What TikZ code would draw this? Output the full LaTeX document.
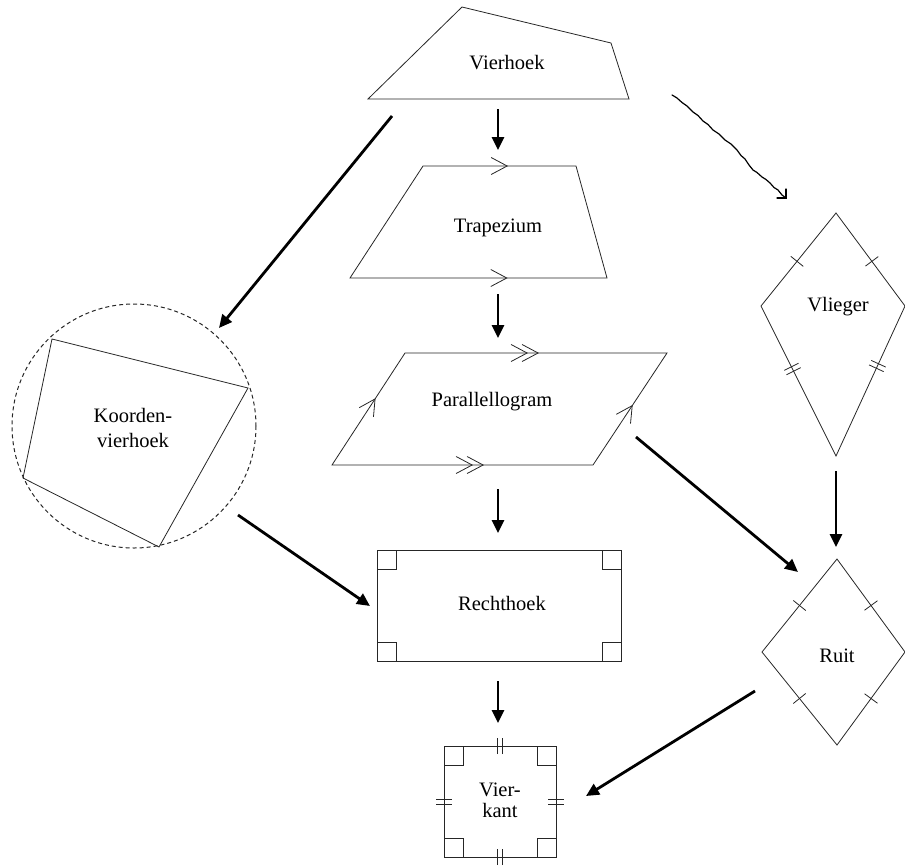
\documentclass[tikz,border=0pt]{standalone}
\usepackage{fontspec}
\setmainfont{Liberation Serif}
\usetikzlibrary{arrows.meta,decorations.markings}
\begin{document}
\begin{tikzpicture}[x=1pt,y=-1pt,
  outline/.style={draw=black!85,line width=0.8pt,line join=miter},
  txt/.style={font=\fontsize{20.5}{24}\selectfont,align=center,inner sep=0pt},
  flowarrow/.style={line width=2.8pt,-{Triangle[length=13pt,width=12pt]}},
  chev/.style={postaction={decorate,decoration={markings,mark=at position #1 with
      {\draw[black!85,line width=0.8pt] (-16pt,8.5pt) -- (0pt,0pt) -- (-16pt,-8.5pt);}}}},
  dchev/.style={postaction={decorate,decoration={markings,mark=at position #1 with
      {\draw[black!85,line width=0.8pt] (-16pt,8.5pt) -- (0pt,0pt) -- (-16pt,-8.5pt)
        (-27pt,8.5pt) -- (-11pt,0pt) -- (-27pt,-8.5pt);}}}},
  onetick/.style={postaction={decorate,decoration={markings,mark=at position #1 with
      {\draw[black!85,line width=0.8pt] (0pt,-8pt) -- (0pt,8pt);}}}},
  twotick/.style={postaction={decorate,decoration={markings,mark=at position #1 with
      {\draw[black!85,line width=0.8pt] (-2.5pt,-8pt) -- (-2.5pt,8pt) (2.5pt,-8pt) -- (2.5pt,8pt);}}}},
]
\useasboundingbox (0,0) rectangle (905,865);

% Vierhoek
\draw[outline] (368,99) -- (462,7) -- (611,43) -- (629,99) -- cycle;
\node[txt] (vierhoek) at (507,63) {Vierhoek};

% Trapezium
\draw[outline] (423,166) -- (576,166) -- (607,278) -- (350,278) -- cycle;
\path[chev=0.55] (423,166) -- (576,166);
\path[chev=0.61] (350,278) -- (607,278);
\node[txt] (trapezium) at (498,228) {Trapezium};

% Parallellogram
\draw[outline] (405,353) -- (667,353) -- (593,465) -- (332,465) -- cycle;
\path[dchev=0.508] (405,353) -- (667,353);
\path[dchev=0.579] (332,465) -- (593,465);
\path[chev=0.59] (332,465) -- (405,353);
\path[chev=0.53] (593,465) -- (667,353);
\node[txt] (parallel) at (492,402) {Parallellogram};

% Koordenvierhoek with its circumscribed circle
\draw[black!85,line width=1pt,dash pattern=on 4pt off 3pt] (134,426) circle[radius=122];
\draw[outline] (52,339) -- (248,388) -- (159,547) -- (23,478) -- cycle;
\node[txt,font=\fontsize{20.5}{25}\selectfont] (koorden) at (133,428) {Koorden-\\vierhoek};

% Rechthoek with right-angle marks
\draw[outline] (377,550) rectangle (621,661);
\draw[outline] (377,550) rectangle (396,569) (602,550) rectangle (621,569)
  (377,642) rectangle (396,661) (602,642) rectangle (621,661);
\node[txt] (rechthoek) at (502,603) {Rechthoek};

% Vierkant
\draw[outline] (444,746) rectangle (556,857);
\draw[outline] (444,746) rectangle (463,765) (537,746) rectangle (556,765)
  (444,838) rectangle (463,857) (537,838) rectangle (556,857);
\path[twotick=0.5] (444,746) -- (556,746);
\path[twotick=0.5] (444,857) -- (556,857);
\path[twotick=0.5] (444,746) -- (444,857);
\path[twotick=0.5] (556,746) -- (556,857);
\node[txt,font=\fontsize{20.5}{21}\selectfont] (vierkant) at (500,800) {Vier-\\kant};

% Vlieger
\draw[outline] (836,213) -- (905,306) -- (836,456) -- (761,306) -- cycle;
\path[onetick=0.52] (836,213) -- (761,306);
\path[onetick=0.52] (836,213) -- (905,306);
\path[twotick=0.42] (761,306) -- (836,456);
\path[twotick=0.40] (905,306) -- (836,456);
\node[txt] (vlieger) at (838,307) {Vlieger};

% Ruit
\draw[outline] (837,559) -- (905,652) -- (837,745) -- (762,652) -- cycle;
\path[onetick=0.5] (837,559) -- (762,652);
\path[onetick=0.5] (837,559) -- (905,652);
\path[onetick=0.5] (762,652) -- (837,745);
\path[onetick=0.5] (905,652) -- (837,745);
\node[txt] (ruit) at (837,656) {Ruit};

% connector end points
\coordinate (a1) at (498,109);  \coordinate (b1) at (498,150);
\coordinate (a2) at (498,294);  \coordinate (b2) at (498,338);
\coordinate (a3) at (498,489);  \coordinate (b3) at (498,533);
\coordinate (a4) at (498,681);  \coordinate (b4) at (498,723);
\coordinate (a5) at (392,116);  \coordinate (b5) at (219,328);
\coordinate (a6) at (238,515);  \coordinate (b6) at (370,606);
\coordinate (a7) at (636,437);  \coordinate (b7) at (798,572);
\coordinate (a8) at (836,471);  \coordinate (b8) at (836,547);
\coordinate (a9) at (755,691);  \coordinate (b9) at (586,796);
\coordinate (a10) at (672,95);  \coordinate (b10) at (786,198);

\draw[flowarrow] (a1) -- (b1);
\draw[flowarrow] (a2) -- (b2);
\draw[flowarrow] (a3) -- (b3);
\draw[flowarrow] (a4) -- (b4);
\draw[flowarrow] (a5) -- (b5);
\draw[flowarrow] (a6) -- (b6);
\draw[flowarrow] (a7) -- (b7);
\draw[flowarrow] (a8) -- (b8);
\draw[flowarrow] (a9) -- (b9);

% hand-drawn arrow from Vierhoek to Vlieger
\draw[line width=1.2pt,line join=round,line cap=round]
  (a10) -- (677,98) -- (682,102.5) -- (687,106) -- (693,112) -- (698,115.5)
  -- (703,121) -- (708,124.5) -- (713,130) -- (719,134) -- (725,140) -- (731,144)
  -- (737,150) -- (741,155.5) -- (745,159) -- (749,165) -- (753,170) -- (757,172.5)
  -- (762,177) -- (766,179.5) -- (770,183) -- (774,187.5) -- (778,190) -- (782,195) -- (b10);
\draw[line width=1.3pt,line cap=round] (786,189) -- (b10) -- (777,198);
\end{tikzpicture}
\end{document}
